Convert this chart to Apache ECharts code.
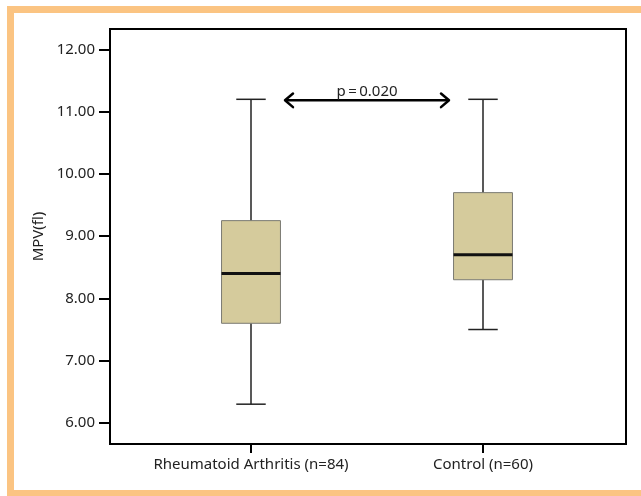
<!DOCTYPE html>
<html>
<head>
<meta charset="utf-8">
<script src="https://cdn.jsdelivr.net/npm/echarts@6/dist/echarts.min.js"></script>
<style>
html,body{margin:0;padding:0;background:#fff;}
#c{width:641px;height:496px;}
</style>
</head>
<body>
<div id="c"></div>
<script>
// ---- data ----
var categories = ['Rheumatoid Arthritis (n=84)', 'Control (n=60)'];
var whiskerLow = [6.3, 7.5];
var q1 = [7.6, 8.3];
var median = [8.4, 8.7];
var q3 = [9.25, 9.7];
var whiskerHigh = [11.2, 11.2];
var yTicks = [6, 7, 8, 9, 10, 11, 12];
var yName = 'MPV(fl)';
var pLabel = 'p\u2009=\u20090.020';
var pLevel = 11.2;

var boxData = categories.map(function (c, i) {
  return [i, whiskerLow[i], q1[i], median[i], q3[i], whiskerHigh[i]];
});

var FONT = 'Noto Sans';
var yMin = 5.66, yMax = 12.33;

var chart = echarts.init(document.getElementById('c'));

function renderBox(params, api) {
  var idx = api.value(0);
  var band = api.size([1, 0])[0];
  var bw = band * 0.254;
  var cw = bw * 0.5;
  var pLow = api.coord([idx, api.value(1)]);
  var pQ1 = api.coord([idx, api.value(2)]);
  var pMed = api.coord([idx, api.value(3)]);
  var pQ3 = api.coord([idx, api.value(4)]);
  var pHigh = api.coord([idx, api.value(5)]);
  var x = pMed[0];
  var wStyle = {stroke: '#222', lineWidth: 1.5};
  return {
    type: 'group',
    children: [
      {type: 'line', shape: {x1: x, y1: pHigh[1], x2: x, y2: pQ3[1]}, style: wStyle},
      {type: 'line', shape: {x1: x, y1: pQ1[1], x2: x, y2: pLow[1]}, style: wStyle},
      {type: 'line', shape: {x1: x - cw / 2, y1: pHigh[1], x2: x + cw / 2, y2: pHigh[1]}, style: wStyle},
      {type: 'line', shape: {x1: x - cw / 2, y1: pLow[1], x2: x + cw / 2, y2: pLow[1]}, style: wStyle},
      {type: 'rect', shape: {x: x - bw / 2, y: pQ3[1], width: bw, height: pQ1[1] - pQ3[1]},
        style: {fill: '#d5cb9c', stroke: '#7a7a72', lineWidth: 1}},
      {type: 'line', shape: {x1: x - bw / 2, y1: pMed[1], x2: x + bw / 2, y2: pMed[1]},
        style: {stroke: '#111', lineWidth: 3}}
    ]
  };
}

var frameRect = {type: 'rect', silent: true, z: 100,
  shape: {x: 10.5, y: 9.5, width: 800, height: 484},
  style: {fill: 'none', stroke: '#fbc482', lineWidth: 7}};

var option = {
  animation: false,
  backgroundColor: '#fff',
  textStyle: {fontFamily: FONT},
  grid: [
    {left: 110, right: 15, top: 29, bottom: 52, show: true, borderColor: '#000', borderWidth: 2, backgroundColor: 'transparent'},
    {left: 135, width: 464, top: 29, bottom: 52}
  ],
  xAxis: [
    {type: 'value', gridIndex: 0, show: false, min: 0, max: 1},
    {type: 'category', gridIndex: 1, data: categories, boundaryGap: true,
      axisLine: {show: false},
      axisTick: {show: true, alignWithLabel: true, interval: 0, length: 9, lineStyle: {color: '#000', width: 2}},
      axisLabel: {fontFamily: FONT, fontSize: 15, color: '#222', margin: 13, interval: 0},
      splitLine: {show: false}}
  ],
  yAxis: [
    {type: 'value', gridIndex: 0, min: yMin, max: yMax,
      name: yName, nameLocation: 'middle', nameGap: 63, nameRotate: 90,
      nameTextStyle: {fontFamily: FONT, fontSize: 15, color: '#222'},
      axisLine: {show: true, lineStyle: {color: '#000', width: 2}},
      axisTick: {show: true, length: 11, customValues: yTicks, lineStyle: {color: '#000', width: 2}},
      axisLabel: {show: true, customValues: yTicks, fontFamily: FONT, fontSize: 15, color: '#222', margin: 15,
        formatter: function (v) { return Number(v).toFixed(2); }},
      splitLine: {show: false}},
    {type: 'value', gridIndex: 1, min: yMin, max: yMax, show: false, splitLine: {show: false}}
  ],
  series: [
    {type: 'custom', xAxisIndex: 1, yAxisIndex: 1, data: boxData, renderItem: renderBox,
      encode: {x: 0, y: [1, 2, 3, 4, 5]}, z: 5}
  ],
  graphic: [frameRect]
};
chart.setOption(option);

// p-value arrow annotation, positioned from the axes
var xa = chart.convertToPixel({xAxisIndex: 1}, 0);
var xb = chart.convertToPixel({xAxisIndex: 1}, 1);
var yp = chart.convertToPixel({yAxisIndex: 1}, pLevel) + 1;
var mid = (xa + xb) / 2;
var half = (xb - xa) / 2 - 34;
var L = mid - half, R = mid + half, a = 8;
var aStyle = {stroke: '#000', lineWidth: 2.5, lineCap: 'round', lineJoin: 'round', fill: 'none'};
chart.setOption({
  graphic: [
    frameRect,
    {type: 'line', z: 50, shape: {x1: L + 1, y1: yp, x2: R - 1, y2: yp}, style: aStyle},
    {type: 'polyline', z: 50, shape: {points: [[L + a, yp - a * 0.85], [L, yp], [L + a, yp + a * 0.85]]}, style: aStyle},
    {type: 'polyline', z: 50, shape: {points: [[R - a, yp - a * 0.85], [R, yp], [R - a, yp + a * 0.85]]}, style: aStyle},
    {type: 'text', z: 50, x: mid, y: yp - 1,
      style: {text: pLabel, fontFamily: FONT, fontSize: 15, fill: '#222', align: 'center', verticalAlign: 'bottom'}}
  ]
});
</script>
</body>
</html>
